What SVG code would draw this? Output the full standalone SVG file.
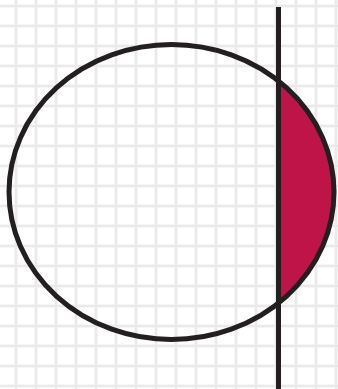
<svg xmlns="http://www.w3.org/2000/svg" width="338" height="389" viewBox="0 0 338 389">
  <defs>
    <pattern id="grid" x="6" y="-4" width="20" height="20" patternUnits="userSpaceOnUse">
      <rect x="8" y="0" width="4" height="20" fill="#f6f6f6"/>
      <rect x="0" y="8" width="20" height="4" fill="#f6f6f6"/>
      <rect x="9" y="0" width="2" height="20" fill="#eaeaea"/>
      <rect x="0" y="9" width="20" height="2" fill="#eaeaea"/>
    </pattern>
  </defs>
  <style>
    .outline { fill: none; stroke: #231f20; stroke-width: 5; }
    .seg { fill: #be1448; stroke: none; }
  </style>
  <rect width="338" height="389" fill="#ffffff"/>
  <rect width="338" height="389" fill="url(#grid)"/>
  <g id="segment">
    <path class="seg" d="M278.5,81 A162.5,147.5 0 0 1 278.5,303 Z"/>
  </g>
  <g id="ellipse">
    <ellipse class="outline" cx="171.5" cy="192" rx="162.5" ry="147.5"/>
  </g>
  <g id="line">
    <line class="outline" x1="278.5" y1="7" x2="278.5" y2="389"/>
  </g>
</svg>
